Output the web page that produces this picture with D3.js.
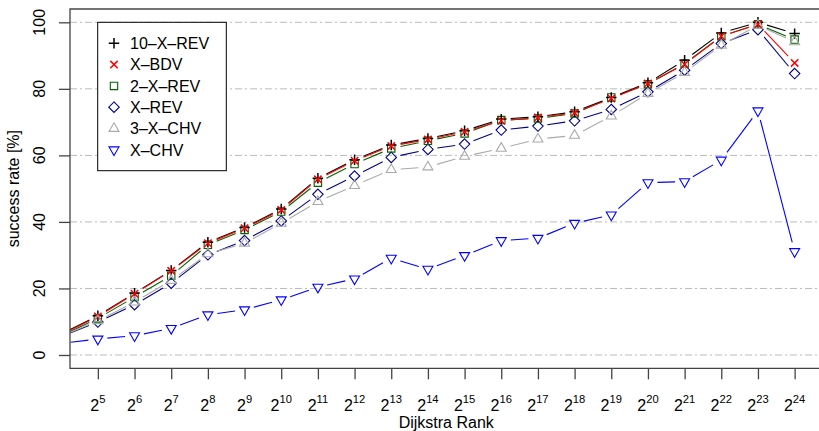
<!DOCTYPE html>
<html>
<head>
<meta charset="utf-8">
<script src="https://cdn.jsdelivr.net/npm/d3@7"></script>
<style>
  body { margin: 0; background: #fff; }
  text { font-family: "Liberation Sans", Arial, sans-serif; fill: #000; }
</style>
</head>
<body>
<div id="chart"></div>
<script>
// Dijkstra rank exponents (2^4 lies just outside the plot and gets clipped)
const exps = [4, 5, 6, 7, 8, 9, 10, 11, 12, 13, 14, 15, 16, 17, 18, 19, 20, 21, 22, 23, 24];
const yTicks = [0, 20, 40, 60, 80, 100];

// success rates [%]
const tenXRev   = [6.3, 11.8, 18.6, 25.4, 33.9, 38.3, 43.9, 53.1, 58.7, 63.1, 65.1, 67.4, 70.9, 71.6, 73.1, 77.4, 81.8, 88.6, 96.8, 100, 96.6];
const xBdv      = [6.1, 11.6, 18.4, 25.3, 33.6, 38.1, 43.6, 52.8, 58.4, 62.8, 64.8, 67.1, 70.4, 71.4, 72.8, 77.1, 81.6, 87.4, 95.8, 99.4, 87.8];
const twoXRev   = [5.8, 11.0, 17.4, 23.8, 33.1, 37.6, 43.1, 51.8, 57.4, 62.1, 64.4, 66.6, 70.6, 71.1, 72.6, 77.4, 81.4, 87.6, 95.8, 99.4, 94.8];
const xRev      = [5.6, 9.9, 15.1, 21.6, 30.1, 34.4, 40.3, 48.3, 53.8, 59.4, 61.8, 63.4, 67.6, 68.8, 70.4, 73.8, 79.1, 85.6, 93.6, 97.8, 84.6];
const threeXChv = [5.7, 10.3, 15.9, 22.4, 30.4, 33.6, 39.6, 46.1, 50.9, 55.7, 56.5, 59.7, 62.1, 64.9, 66.0, 71.8, 78.6, 84.9, 93.1, 99.1, 94.1];
const xChv      = [3.5, 4.8, 5.8, 8.0, 12.1, 13.6, 16.6, 20.4, 22.9, 29.1, 25.8, 29.9, 34.4, 35.1, 39.6, 42.1, 51.8, 52.1, 58.6, 73.4, 31.1];

const series = [
  { name: "10\u2013X\u2013REV", values: tenXRev,   color: "#000000", pch: "plus" },
  { name: "X\u2013BDV",         values: xBdv,      color: "#FF0000", pch: "cross" },
  { name: "2\u2013X\u2013REV",  values: twoXRev,   color: "#006400", pch: "square" },
  { name: "X\u2013REV",         values: xRev,      color: "#00008B", pch: "diamond" },
  { name: "3\u2013X\u2013CHV",  values: threeXChv, color: "#AAAAAA", pch: "triUp" },
  { name: "X\u2013CHV",         values: xChv,      color: "#0000FF", pch: "triDown" }
];
const drawOrder = [5, 3, 2, 0, 1, 4];

const width = 819, height = 431;
const plot = { left: 70, right: 822.5, top: 9, bottom: 368.3 };

const svg = d3.select("#chart")
  .append("svg")
  .attr("width", width)
  .attr("height", height);

const x = d3.scaleLinear().domain([4.24, 24.76]).range([plot.left, plot.right]);
const y = d3.scaleLinear().domain([-4, 104]).range([plot.bottom, plot.top]);

svg.append("clipPath").attr("id", "clip")
  .append("rect")
  .attr("x", plot.left).attr("y", plot.top)
  .attr("width", plot.right - plot.left).attr("height", plot.bottom - plot.top);

// grid
svg.append("g")
  .selectAll("line")
  .data(yTicks)
  .enter()
  .append("line")
  .attr("x1", plot.left).attr("x2", width)
  .attr("y1", d => y(d)).attr("y2", d => y(d))
  .attr("stroke", "#BBBBBB")
  .attr("stroke-width", 1)
  .attr("stroke-dasharray", "7,3,2,3");

// R-like symbols
const R = 3.7;
function symbolPath(pch) {
  const p = d3.path();
  if (pch === "plus") {
    const c = R * Math.SQRT2;
    p.moveTo(-c, 0); p.lineTo(c, 0); p.moveTo(0, -c); p.lineTo(0, c);
  } else if (pch === "cross") {
    p.moveTo(-R, -R); p.lineTo(R, R); p.moveTo(-R, R); p.lineTo(R, -R);
  } else if (pch === "square") {
    p.rect(-R, -R, 2 * R, 2 * R);
  } else if (pch === "diamond") {
    const c = R * Math.SQRT2;
    p.moveTo(0, -c); p.lineTo(c, 0); p.lineTo(0, c); p.lineTo(-c, 0); p.closePath();
  } else {
    const r = 1.555 * R, hx = 1.347 * R, s = pch === "triUp" ? 1 : -1;
    p.moveTo(0, -s * r); p.lineTo(hx, s * r / 2); p.lineTo(-hx, s * r / 2); p.closePath();
  }
  return p.toString();
}
const symbolWidth = pch => (pch === "cross" || pch === "plus") ? 1.5 : 1.1;

const data = svg.append("g").attr("clip-path", "url(#clip)");
const gap = 9.5;

drawOrder.forEach(i => {
  const s = series[i];
  const pts = exps.map((e, j) => [x(e), y(s.values[j])]);
  const segs = d3.pairs(pts).filter(([a, b]) => Math.hypot(b[0] - a[0], b[1] - a[1]) > 2 * gap);
  data.append("g")
    .selectAll("line")
    .data(segs)
    .enter()
    .append("line")
    .attr("x1", ([a, b]) => a[0] + (b[0] - a[0]) * gap / Math.hypot(b[0] - a[0], b[1] - a[1]))
    .attr("y1", ([a, b]) => a[1] + (b[1] - a[1]) * gap / Math.hypot(b[0] - a[0], b[1] - a[1]))
    .attr("x2", ([a, b]) => b[0] - (b[0] - a[0]) * gap / Math.hypot(b[0] - a[0], b[1] - a[1]))
    .attr("y2", ([a, b]) => b[1] - (b[1] - a[1]) * gap / Math.hypot(b[0] - a[0], b[1] - a[1]))
    .attr("stroke", s.color)
    .attr("stroke-width", 1.1);
  data.append("g")
    .selectAll("path")
    .data(pts)
    .enter()
    .append("path")
    .attr("transform", d => `translate(${d[0]},${d[1]})`)
    .attr("d", symbolPath(s.pch))
    .attr("fill", "none")
    .attr("stroke", s.color)
    .attr("stroke-width", symbolWidth(s.pch));
});

// box
svg.append("path")
  .attr("d", `M${width + 5},${plot.top}H${plot.left}V${plot.bottom}H${width + 5}`)
  .attr("fill", "none")
  .attr("stroke", "#444")
  .attr("stroke-width", 1.3);

// x axis
const xAxis = svg.append("g")
  .attr("transform", `translate(0,${plot.bottom})`)
  .call(d3.axisBottom(x).tickValues(exps.filter(e => e >= 5)).tickSize(11).tickFormat(""));
xAxis.select(".domain").remove();
xAxis.selectAll(".tick line").attr("stroke", "#444").attr("stroke-width", 1.3);

const xl = svg.append("g")
  .selectAll("text")
  .data(exps.filter(e => e >= 5))
  .enter()
  .append("text")
  .attr("x", d => x(d))
  .attr("y", 411)
  .attr("text-anchor", "middle")
  .style("font-size", "16px");
xl.append("tspan").text("2");
xl.append("tspan").attr("dy", -8).style("font-size", "11.2px").text(d => d);

// y axis
const yAxis = svg.append("g")
  .attr("transform", `translate(${plot.left},0)`)
  .call(d3.axisLeft(y).tickValues(yTicks).tickSize(11).tickFormat(""));
yAxis.select(".domain").remove();
yAxis.selectAll(".tick line").attr("stroke", "#444").attr("stroke-width", 1.3);

svg.append("g")
  .selectAll("text")
  .data(yTicks)
  .enter()
  .append("text")
  .attr("transform", d => `translate(45,${y(d)}) rotate(-90)`)
  .attr("text-anchor", "middle")
  .style("font-size", "16px")
  .text(d => d);

// axis titles
svg.append("text")
  .attr("x", (plot.left + plot.right) / 2)
  .attr("y", 428)
  .attr("text-anchor", "middle")
  .style("font-size", "16px")
  .text("Dijkstra Rank");

svg.append("text")
  .attr("transform", `translate(19,${(plot.top + plot.bottom) / 2}) rotate(-90)`)
  .attr("text-anchor", "middle")
  .style("font-size", "16px")
  .text("success rate [%]");

// legend
const legend = svg.append("g");
legend.append("rect")
  .attr("x", 97.7).attr("y", 22.3)
  .attr("width", 128.6).attr("height", 148.4)
  .attr("fill", "#fff")
  .attr("stroke", "#000")
  .attr("stroke-width", 1);

series.forEach((s, i) => {
  const cy = 43.3 + i * 21.3;
  legend.append("path")
    .attr("transform", `translate(114,${cy})`)
    .attr("d", symbolPath(s.pch))
    .attr("fill", "none")
    .attr("stroke", s.color)
    .attr("stroke-width", symbolWidth(s.pch));
  legend.append("text")
    .attr("x", 130)
    .attr("y", cy)
    .attr("dy", "0.36em")
    .style("font-size", "16px")
    .text(s.name);
});
</script>
</body>
</html>
